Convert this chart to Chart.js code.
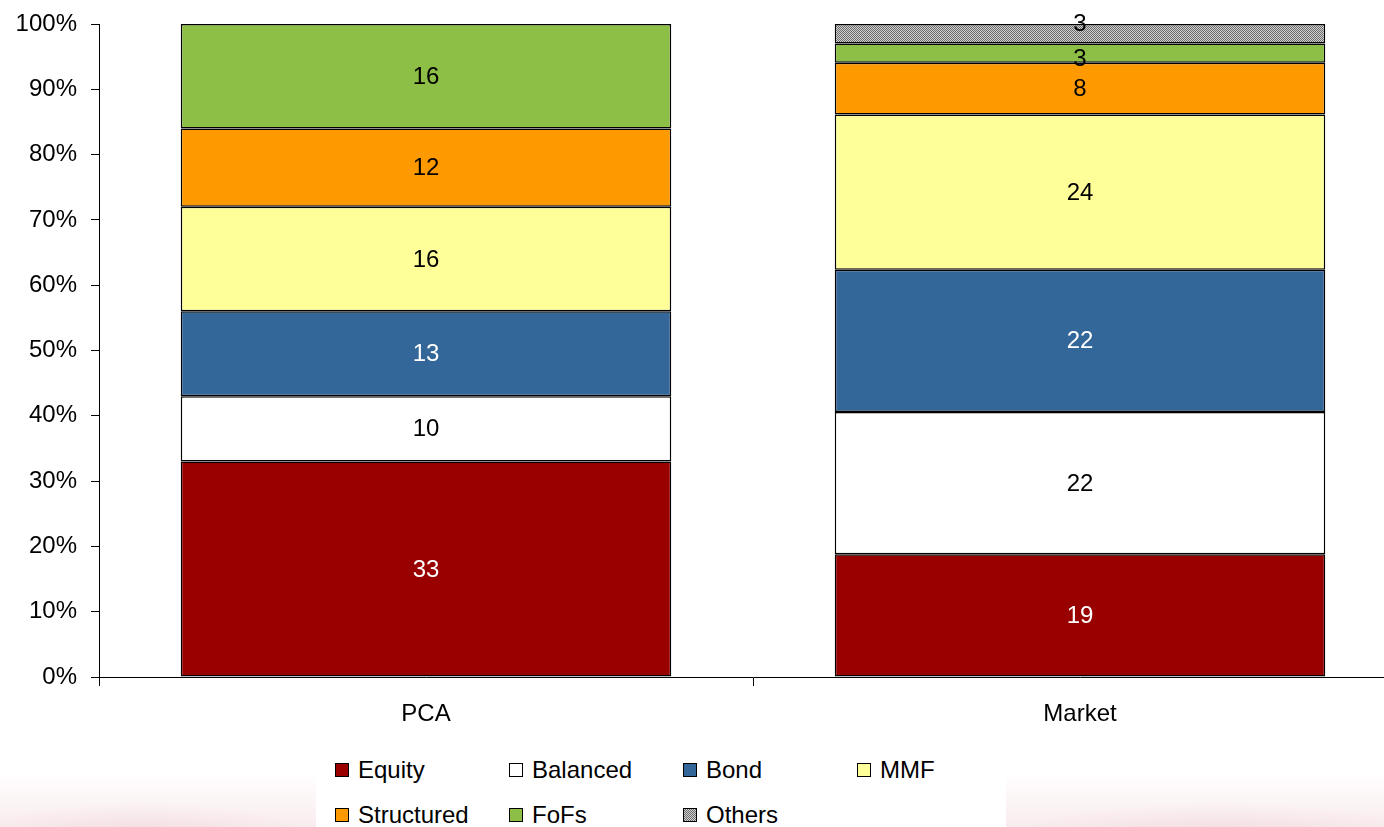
<!DOCTYPE html>
<html>

<head>
  <title>Fund mix: PCA vs Market</title>
  <script src="https://cdn.jsdelivr.net/npm/chart.js@4.4.1/dist/chart.umd.min.js"></script>
  <style>
    body {
      margin: 0;
      padding: 0;
      width: 1384px;
      height: 827px;
      overflow: hidden;
      background-color: #fff;
      font-family: Arial, "Liberation Sans", sans-serif;
      position: relative;
    }

    #wrap {
      position: absolute;
      left: 0;
      top: 0;
      width: 1384px;
      height: 745px;
      overflow: hidden;
    }

    /* faint pink backdrop along the bottom edge */
    #backdrop {
      position: absolute;
      left: 0;
      top: 772px;
      width: 1384px;
      height: 55px;
      background:
        radial-gradient(ellipse 160px 30px at 140px 60px, rgba(225, 175, 185, 0.22), transparent),
        radial-gradient(ellipse 200px 30px at 1220px 60px, rgba(225, 175, 185, 0.22), transparent),
        linear-gradient(to bottom, rgba(255, 255, 255, 0), rgba(242, 212, 217, 0.45));
    }

    #legend {
      position: absolute;
      left: 316px;
      top: 748px;
      width: 690px;
      height: 79px;
      background: #fff;
    }

    .item {
      position: absolute;
      height: 24px;
      line-height: 24px;
      font-size: 24px;
      color: #000;
      white-space: nowrap;
    }

    .swatch {
      position: absolute;
      left: 0;
      top: 5px;
      width: 12px;
      height: 12px;
      border: 1px solid #000;
    }

    .item span {
      position: absolute;
      left: 23px;
      top: 0;
    }
  </style>
</head>

<body>
  <div id="backdrop"></div>
  <div id="wrap"><canvas id="fundChart" width="1407" height="745"></canvas></div>
  <div id="legend"></div>

  <script>
    const categories = ['PCA', 'Market'];

    const equity = [33, 19];
    const balanced = [10, 22];
    const bond = [13, 22];
    const mmf = [16, 24];
    const structured = [12, 8];
    const fofs = [16, 3];
    const others = [0, 3];

    const yTicks = [0, 10, 20, 30, 40, 50, 60, 70, 80, 90, 100];

    // small checker texture for "Others"
    const patternCanvas = document.createElement('canvas');
    patternCanvas.width = 2;
    patternCanvas.height = 2;
    const pctx = patternCanvas.getContext('2d');
    pctx.fillStyle = '#d2d2d2';
    pctx.fillRect(0, 0, 2, 2);
    pctx.fillStyle = '#6a6a6a';
    pctx.fillRect(0, 0, 1, 1);
    pctx.fillRect(1, 1, 1, 1);
    const othersPattern = pctx.createPattern(patternCanvas, 'repeat');

    const series = [
      { label: 'Equity', values: equity, color: '#990000', css: '#990000', text: '#fff' },
      { label: 'Balanced', values: balanced, color: '#ffffff', css: '#ffffff', text: '#000' },
      { label: 'Bond', values: bond, color: '#336699', css: '#336699', text: '#fff' },
      { label: 'MMF', values: mmf, color: '#ffff99', css: '#ffff99', text: '#000' },
      { label: 'Structured', values: structured, color: '#ff9900', css: '#ff9900', text: '#000' },
      { label: 'FoFs', values: fofs, color: '#8dbe45', css: '#8dbe45', text: '#000', dy: [0, 5] },
      { label: 'Others', values: others, color: othersPattern,
        css: 'repeating-conic-gradient(#6a6a6a 0 25%, #d2d2d2 0 50%) 0 0/2px 2px', text: '#000', dy: [0, -10] },
    ];

    // each column is shown as a share of its own total
    const totals = categories.map((c, i) => series.reduce((s, d) => s + d.values[i], 0));

    const datasets = series.map(s => ({
      label: s.label,
      data: s.values.map((v, i) => v / totals[i] * 100),
      raw: s.values,
      backgroundColor: s.color,
      borderColor: '#000',
      borderWidth: 1.5,
      borderSkipped: false,
      barPercentage: 0.75,
      categoryPercentage: 1,
      labelColor: s.text,
      labelDy: s.dy || [0, 0],
    }));

    const segmentLabels = {
      id: 'segmentLabels',
      afterDatasetsDraw(chart) {
        const ctx = chart.ctx;
        ctx.save();
        ctx.font = '24px Arial, "Liberation Sans", sans-serif';
        ctx.textAlign = 'center';
        ctx.textBaseline = 'middle';
        chart.data.datasets.forEach((ds, di) => {
          const meta = chart.getDatasetMeta(di);
          meta.data.forEach((bar, i) => {
            const v = ds.raw[i];
            if (!v) return;
            ctx.fillStyle = ds.labelColor;
            ctx.fillText(String(v), bar.x, (bar.y + bar.base) / 2 + 1 + ds.labelDy[i]);
          });
        });
        ctx.restore();
      }
    };

    const fundChart = new Chart(document.getElementById('fundChart').getContext('2d'), {
      type: 'bar',
      data: { labels: categories, datasets: datasets },
      plugins: [segmentLabels],
      options: {
        responsive: false,
        animation: false,
        events: [],
        layout: { padding: { top: 24, right: 0, bottom: 0, left: 0 } },
        plugins: {
          legend: { display: false },
          tooltip: { enabled: false },
        },
        scales: {
          x: {
            stacked: true,
            grid: {
              offset: true,
              drawOnChartArea: false,
              color: '#000',
              tickLength: 9,
            },
            border: { color: '#000', width: 1 },
            ticks: {
              color: '#000',
              padding: 14,
              font: { family: 'Arial, "Liberation Sans", sans-serif', size: 24 },
            },
            afterFit(scale) {
              scale.height = 745 - 677;
              scale.paddingLeft = 0;
              scale.paddingRight = 0;
            },
          },
          y: {
            stacked: true,
            min: 0,
            max: 100,
            afterBuildTicks(scale) { scale.ticks = yTicks.map(v => ({ value: v })); },
            grid: {
              drawOnChartArea: false,
              color: '#000',
              tickLength: 8,
            },
            border: { color: '#000', width: 1 },
            ticks: {
              color: '#000',
              padding: 14,
              font: { family: 'Arial, "Liberation Sans", sans-serif', size: 24 },
              callback: v => v + '%',
            },
            afterFit(scale) {
              scale.width = 99;
              scale.paddingTop = 0;
              scale.paddingBottom = 0;
            },
          },
        },
      },
    });

    // two-row legend laid out in fixed columns
    const legend = document.getElementById('legend');
    series.forEach((s, i) => {
      const row = Math.floor(i / 4);
      const col = i % 4;
      const item = document.createElement('div');
      item.className = 'item';
      item.style.left = (335 - 316 + col * 174) + 'px';
      item.style.top = (770 - 748 - 12 + row * 45) + 'px';
      const sw = document.createElement('div');
      sw.className = 'swatch';
      sw.style.background = s.css;
      const tx = document.createElement('span');
      tx.textContent = s.label;
      item.appendChild(sw);
      item.appendChild(tx);
      legend.appendChild(item);
    });
  </script>
</body>

</html>
